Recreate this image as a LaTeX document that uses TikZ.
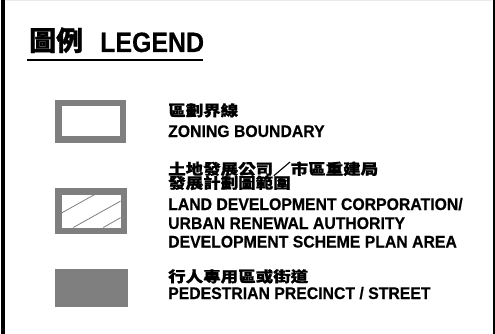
\documentclass[tikz,border=0pt]{standalone}
\usepackage{fontspec}
\setmainfont{Liberation Sans}[BoldFeatures={FakeBold=0.4}]
\newfontfamily\cjk{Noto Sans CJK TC}[BoldFeatures={FakeBold=0.9}]
\newfontfamily\ennarrow{Liberation Sans}[FakeStretch=0.94, BoldFeatures={FakeBold=0.5}]
\newcommand\zhline[1]{\scalebox{1}[0.85]{#1}}
\definecolor{boxgray}{HTML}{7F7F7F}
\tikzset{
  entxt/.style={anchor=base west, inner sep=0pt, font=\fontsize{16.8}{18}\selectfont\ennarrow\bfseries},
  zhtxt/.style={anchor=base west, inner sep=0pt, font=\fontsize{17.5}{17}\selectfont\cjk\bfseries},
  symbox/.style={draw=boxgray, line width=6.5pt},
  hatch/.style={draw=boxgray, line width=0.8pt}
}
\begin{document}
\begin{tikzpicture}[x=1pt,y=-1pt]
\useasboundingbox (0,0) rectangle (495,334);
% frame
\draw[line width=3.5pt] (3,0) -- (3,334);
\draw[line width=2.5pt] (494,0) -- (494,334);
\draw[line width=0.5pt, black!8] (5,0.5) -- (492,0.5);
% title
\node[anchor=base west, inner sep=0pt, font=\fontsize{27}{27}\selectfont\cjk\bfseries] (tzh) at (29,50.5) {圖例};
\node[anchor=base west, inner sep=0pt, font=\fontsize{28}{28}\selectfont\bfseries] (ten) at (100,52) {\scalebox{0.89}[1]{LEGEND}};
\draw[line width=2pt] (27,60) -- (203,60);
% item 1
\draw[symbox] (58.25,103.25) rectangle (122.75,139.75);
\node[zhtxt] (z1) at (168,116) {\zhline{區劃界線}};
\node[entxt] (e1) at (168,137) {ZONING BOUNDARY};
% item 2
\draw[symbox] (58.25,191.25) rectangle (123.75,230.75);
\begin{scope}
\clip (61.5,194.5) rectangle (120.5,227.5);
\draw[hatch] (40,225) -- (110,186);
\draw[hatch] (73.3,227.5) -- (135,193);
\draw[hatch] (103.3,227.5) -- (150,201);
\end{scope}
\node[zhtxt] (z2a) at (168,174.5) {\zhline{土地發展公司／市區重建局}};
\node[zhtxt] (z2b) at (168,188.5) {\zhline{發展計劃圖範圍}};
\node[entxt] (e2a) at (168,210) {LAND DEVELOPMENT CORPORATION/};
\node[entxt] (e2b) at (168,229) {URBAN RENEWAL AUTHORITY};
\node[entxt] (e2c) at (168,247.5) {DEVELOPMENT SCHEME PLAN AREA};
% item 3
\fill[boxgray] (55,269) rectangle (128,307);
\node[zhtxt] (z3) at (168,282) {\zhline{行人專用區或街道}};
\node[entxt] (e3) at (168,299) {PEDESTRIAN PRECINCT / STREET};
\end{tikzpicture}
\end{document}
